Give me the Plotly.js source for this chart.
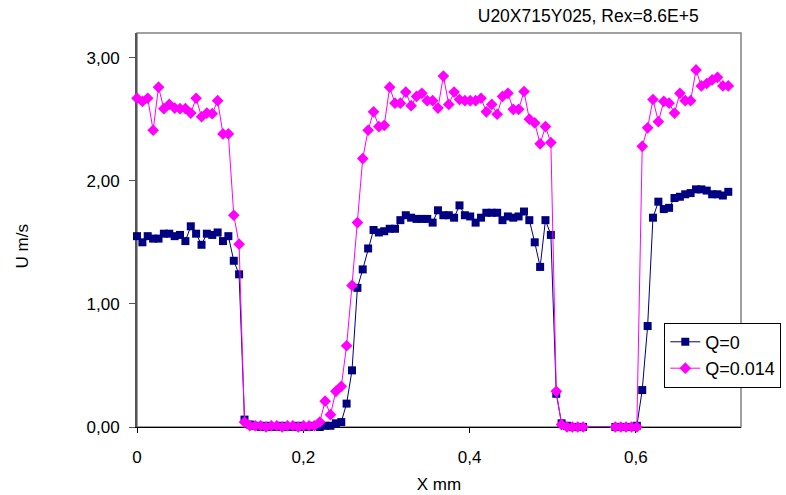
<!DOCTYPE html>
<html>
<head>
<meta charset="utf-8">
<script src="https://cdn.plot.ly/plotly-3.0.1.min.js"></script>
<style>html,body{margin:0;padding:0;background:#fff;}#chart{width:786px;height:495px;}</style>
</head>
<body>
<div id="chart"></div>
<script>
// X positions (mm)
const xMM = [
  0, 0.0065, 0.0129, 0.0194, 0.0259, 0.0323, 0.0388, 0.0453, 0.0517, 0.0582,
  0.0647, 0.0711, 0.0776, 0.0840, 0.0905, 0.0970, 0.1034, 0.1099, 0.1164, 0.1228,
  0.1293, 0.1358, 0.1422, 0.1487, 0.1552, 0.1616, 0.1681, 0.1746, 0.1810, 0.1875,
  0.1940, 0.2004, 0.2069, 0.2133, 0.2198, 0.2263, 0.2327, 0.2392, 0.2457, 0.2521,
  0.2586, 0.2651, 0.2715, 0.2780, 0.2845, 0.2909, 0.2974, 0.3039, 0.3103, 0.3168,
  0.3233, 0.3297, 0.3362, 0.3426, 0.3491, 0.3556, 0.3620, 0.3685, 0.3750, 0.3814,
  0.3879, 0.3944, 0.4008, 0.4073, 0.4138, 0.4202, 0.4267, 0.4332, 0.4396, 0.4461,
  0.4526, 0.4590, 0.4655, 0.4719, 0.4784, 0.4849, 0.4913, 0.4978, 0.5043, 0.5107,
  0.5172, 0.5237, 0.5301, 0.5366,
  0.5754, 0.5819, 0.5883, 0.5948, 0.6012, 0.6077, 0.6142, 0.6206, 0.6271, 0.6336,
  0.6400, 0.6465, 0.6530, 0.6594, 0.6659, 0.6724, 0.6788, 0.6853, 0.6918, 0.6982,
  0.7047, 0.7112
];

// U (m/s), series Q=0
const uQ0 = [
  1.55, 1.50, 1.55, 1.53, 1.53, 1.57, 1.57, 1.55, 1.56, 1.51,
  1.63, 1.57, 1.48, 1.57, 1.56, 1.58, 1.51, 1.55, 1.35, 1.24,
  0.06, 0.02, 0.01, 0.00, 0.01, 0.00, 0.00, 0.01, 0.00, 0.00,
  0.01, 0.00, 0.00, 0.01, 0.00, 0.01, 0.01, 0.03, 0.04, 0.19,
  0.46, 1.13, 1.28, 1.45, 1.60, 1.58, 1.59, 1.61, 1.61, 1.68,
  1.72, 1.70, 1.69, 1.69, 1.69, 1.66, 1.76, 1.72, 1.72, 1.70,
  1.80, 1.72, 1.71, 1.66, 1.70, 1.74, 1.74, 1.74, 1.68, 1.71,
  1.70, 1.71, 1.75, 1.68, 1.50, 1.30, 1.68, 1.56, 0.27, 0.03,
  0.01, 0.00, 0.00, 0.00,
  0.00, 0.00, 0.00, 0.00, 0.01, 0.30, 0.82, 1.70, 1.83, 1.77,
  1.78, 1.86, 1.87, 1.89, 1.90, 1.93, 1.93, 1.92, 1.89, 1.89,
  1.88, 1.91
];

// U (m/s), series Q=0.014
const uQ014 = [
  2.67, 2.645, 2.67, 2.41, 2.76, 2.585, 2.62, 2.59, 2.585, 2.585,
  2.55, 2.67, 2.52, 2.55, 2.545, 2.65, 2.38, 2.38, 1.72, 1.485,
  0.04, 0.01, 0.01, 0.01, 0.00, 0.01, 0.01, 0.00, 0.01, 0.01,
  0.00, 0.01, 0.01, 0.01, 0.04, 0.21, 0.10, 0.29, 0.33, 0.66,
  1.15, 1.66, 2.18, 2.41, 2.56, 2.44, 2.45, 2.76, 2.63, 2.63,
  2.72, 2.61, 2.685, 2.71, 2.65, 2.65, 2.59, 2.85, 2.62, 2.72,
  2.66, 2.65, 2.65, 2.65, 2.67, 2.56, 2.62, 2.54, 2.685, 2.71,
  2.58, 2.58, 2.725, 2.50, 2.47, 2.30, 2.44, 2.31, 0.29, 0.02,
  0.00, 0.00, 0.00, 0.00,
  0.00, 0.00, 0.00, 0.00, 0.00, 2.28, 2.43, 2.66, 2.48, 2.645,
  2.63, 2.55, 2.71, 2.65, 2.65, 2.90, 2.77, 2.79, 2.82, 2.84,
  2.77, 2.77
];

const seriesNames = ['Q=0', 'Q=0.014'];
const yTickVals = [0, 1, 2, 3];
const yTickText = ['0,00', '1,00', '2,00', '3,00'];
const xTickVals = [0, 0.2, 0.4, 0.6];
const xTickText = ['0', '0,2', '0,4', '0,6'];

const FONT = '"Liberation Sans", Arial, sans-serif';

const traces = [
  {
    x: xMM, y: uQ0, name: seriesNames[0], type: 'scatter', mode: 'lines+markers',
    line: {color: '#000080', width: 1},
    marker: {symbol: 'square', size: 8, color: '#000080'},
    cliponaxis: false
  },
  {
    x: xMM, y: uQ014, name: seriesNames[1], type: 'scatter', mode: 'lines+markers',
    line: {color: '#FF00FF', width: 1},
    marker: {symbol: 'diamond', size: 9, color: '#FF00FF'},
    cliponaxis: false
  }
];

const layout = {
  width: 786, height: 495,
  margin: {l: 137, r: 45, t: 33, b: 68, pad: 0, autoexpand: false},
  paper_bgcolor: '#ffffff', plot_bgcolor: '#ffffff',
  font: {family: FONT, size: 17, color: '#000'},
  separators: ',.',
  showlegend: true,
  title: {
    text: 'U20X715Y025, Rex=8.6E+5',
    font: {family: FONT, size: 17.5, color: '#000'},
    xref: 'paper', x: 0.747, xanchor: 'center',
    yref: 'container', y: 0.968, yanchor: 'middle'
  },
  xaxis: {
    range: [0, 0.7265], tickvals: xTickVals, ticktext: xTickText,
    showgrid: false, zeroline: false,
    showline: true, linecolor: '#000', linewidth: 1,
    ticks: 'outside', ticklen: 5, tickcolor: '#000',
    tickfont: {family: FONT, size: 17},
    ticklabelstandoff: 10,
    layer: 'below traces',
    title: {text: 'X mm', font: {family: FONT, size: 17}, standoff: 11}
  },
  yaxis: {
    range: [0, 3.2], tickvals: yTickVals, ticktext: yTickText,
    showgrid: false, zeroline: false,
    showline: true, linecolor: '#555', linewidth: 2,
    ticks: 'outside', ticklen: 6, tickcolor: '#555',
    tickfont: {family: FONT, size: 17},
    ticklabelstandoff: 6,
    layer: 'below traces'
  },
  annotations: [
    {text: 'U m/s', xref: 'paper', yref: 'paper', x: -0.19, y: 0.459,
     xanchor: 'center', yanchor: 'middle', textangle: -90, showarrow: false,
     font: {family: FONT, size: 17, color: '#000'}}
  ],
  shapes: [
    {type: 'rect', xref: 'paper', yref: 'paper', x0: 0, x1: 1, y0: 0, y1: 1,
     line: {color: '#808080', width: 1.5}, layer: 'below'}
  ],
  legend: {
    x: 0.873, y: 0.265, xanchor: 'left', yanchor: 'top',
    bgcolor: '#ffffff', bordercolor: '#000', borderwidth: 1,
    font: {family: FONT, size: 18, color: '#000'},
    tracegroupgap: 0
  }
};

Plotly.newPlot('chart', traces, layout, {displayModeBar: false, staticPlot: true});
</script>
</body>
</html>
